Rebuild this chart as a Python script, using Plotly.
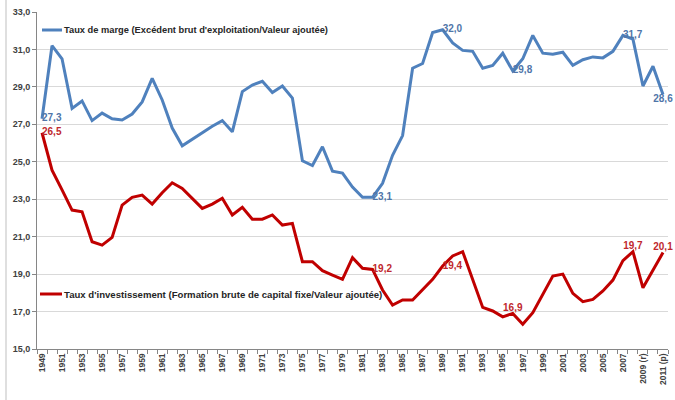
import plotly.graph_objects as go

years = list(range(1949, 2012))
tick_years = list(range(1949, 2012, 2))
tick_labels = [str(y) for y in range(1949, 2008, 2)] + ["2009 (r)", "2011 (p)"]

taux_marge = [27.3, 31.2, 30.5, 27.85, 28.25, 27.2, 27.6, 27.3, 27.23, 27.55,
              28.2, 29.45, 28.3, 26.8, 25.85, 26.2, 26.55, 26.9, 27.2, 26.6,
              28.75, 29.1, 29.3, 28.7, 29.05, 28.4, 25.05, 24.8, 25.8, 24.5,
              24.4, 23.65, 23.1, 23.1, 23.85, 25.35, 26.4, 30.0, 30.25, 31.9,
              32.05, 31.35, 30.95, 30.9, 30.0, 30.15, 30.8, 29.85, 30.5, 31.75,
              30.8, 30.75, 30.85, 30.15, 30.45, 30.6, 30.55, 30.9, 31.75, 31.55,
              29.05, 30.1, 28.6]

taux_invest = [26.55, 24.55, 23.5, 22.42, 22.33, 20.73, 20.55, 20.96, 22.69, 23.1,
               23.22, 22.74, 23.35, 23.88, 23.58, 23.05, 22.51, 22.74, 23.05, 22.16,
               22.57, 21.93, 21.93, 22.16, 21.62, 21.71, 19.66, 19.66, 19.18, 18.95,
               18.72, 19.88, 19.31, 19.25, 18.15, 17.35, 17.62, 17.62, 18.15, 18.72,
               19.43, 19.97, 20.2, 18.68, 17.22, 17.03, 16.72, 16.9, 16.32, 16.94,
               17.92, 18.9, 19.0, 17.97, 17.53, 17.65, 18.1, 18.68, 19.72, 20.2,
               18.27, 19.22, 20.15]

marge_labels = {1949: ("27,3", "middle right"), 1982: ("23,1", "middle right"),
                1989: ("32,0", "middle right"), 1996: ("29,8", "middle right"),
                2007: ("31,7", "middle right"), 2011: ("28,6", "bottom center")}
invest_labels = {1949: ("26,5", "middle right"), 1982: ("19,2", "middle right"),
                 1989: ("19,4", "middle right"), 1996: ("16,9", "top center"),
                 2008: ("19,7", "top center"), 2011: ("20,1", "top center")}

name_marge = "Taux de marge (Excédent brut d'exploitation/Valeur ajoutée)"
name_invest = "Taux d'investissement (Formation brute de capital fixe/Valeur ajoutée)"

BLUE = "#4F81BD"
RED = "#C00000"
FONT = "Liberation Sans, Arial, sans-serif"

def texts(d):
    return [d.get(y, ("", "middle right"))[0] for y in years], \
           [d.get(y, ("", "middle right"))[1] for y in years]

mt, mp = texts(marge_labels)
it, ip = texts(invest_labels)

fig = go.Figure()
fig.add_trace(go.Scatter(x=years, y=taux_marge, mode="lines+text", name=name_marge,
                         line=dict(color=BLUE, width=3), text=mt, textposition=mp,
                         textfont=dict(color="#4F75A8", size=10, family=FONT, weight="bold"),
                         showlegend=False, cliponaxis=False, hoverinfo="skip"))
fig.add_trace(go.Scatter(x=years, y=taux_invest, mode="lines+text", name=name_invest,
                         line=dict(color=RED, width=3), text=it, textposition=ip,
                         textfont=dict(color="#C0282D", size=10, family=FONT, weight="bold"),
                         showlegend=False, cliponaxis=False, hoverinfo="skip"))

L, R, T, B = 37, 7, 12, 51
W, H = 675, 400
pw = W - L - R
ph = H - T - B

def px_x(p):
    return (p - L) / pw

def px_y(p):
    return 1 - (p - T) / ph

shapes = [
    dict(type="line", xref="paper", yref="paper", x0=px_x(6), x1=px_x(6), y0=px_y(0), y1=px_y(400),
         line=dict(color="#BFBFBF", width=1)),
    dict(type="line", xref="paper", yref="paper", x0=px_x(42), x1=px_x(62), y0=px_y(30), y1=px_y(30),
         line=dict(color=BLUE, width=3)),
    dict(type="line", xref="paper", yref="paper", x0=px_x(40), x1=px_x(62), y0=px_y(294), y1=px_y(294),
         line=dict(color=RED, width=3)),
]
annotations = [
    dict(text=name_marge, xref="paper", yref="paper", x=px_x(62), y=px_y(30), xanchor="left",
         yanchor="middle", showarrow=False,
         font=dict(size=9.3, color="#262626", family=FONT, weight="bold")),
    dict(text=name_invest, xref="paper", yref="paper", x=px_x(62), y=px_y(294), xanchor="left",
         yanchor="middle", showarrow=False,
         font=dict(size=9.6, color="#262626", family=FONT, weight="bold")),
]

fig.update_layout(
    width=W, height=H,
    margin=dict(l=L, r=R, t=T, b=B, autoexpand=False),
    paper_bgcolor="white", plot_bgcolor="white",
    separators=", ",
    shapes=shapes, annotations=annotations,
    font=dict(family=FONT, color="#404040"),
)
fig.update_xaxes(range=[1948.5, 2011.5], tickvals=tick_years, ticktext=tick_labels,
                 tickangle=-90, ticks="", showgrid=False, showline=True, linecolor="#868686",
                 linewidth=1, tickfont=dict(size=8.5, color="#404040", weight="bold"),
                 minor=dict(ticks="outside", tick0=1948.5, dtick=1, ticklen=4,
                            tickcolor="#868686", showgrid=False),
                 zeroline=False, automargin=False)
fig.update_yaxes(range=[15, 33], dtick=2, tick0=15, tickformat=".1f", showgrid=True,
                 gridcolor="#D9D9D9", gridwidth=1, showline=True, linecolor="#868686",
                 ticks="outside", ticklen=4, tickcolor="#868686",
                 tickfont=dict(size=9, color="#404040", weight="bold"), zeroline=False,
                 automargin=False)

fig.write_html("out.html", config={"displayModeBar": False},
               post_script="document.body.style.margin='0';document.body.style.overflow='hidden';")
